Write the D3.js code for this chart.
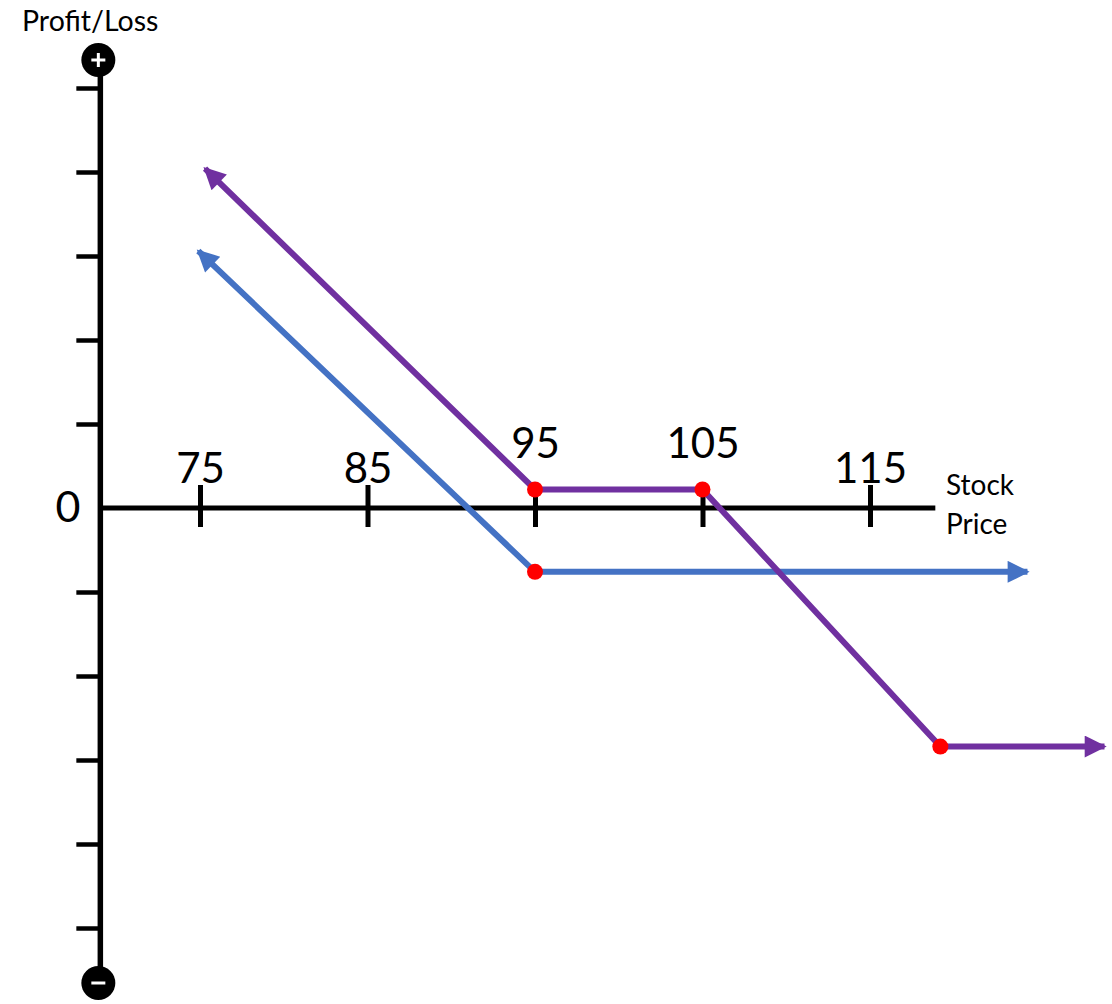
<!DOCTYPE html>
<html>
<head>
<meta charset="utf-8">
<script src="https://cdn.jsdelivr.net/npm/d3@7"></script>
<style>
  body { margin: 0; background: #fff; }
  text { font-family: Lato, "Open Sans", sans-serif; fill: #000; }
</style>
</head>
<body>
<script>
// data: stock price vs profit/loss (one y tick = 5)
let xTicks = [75, 85, 95, 105, 115]
let yTicks = [-25, -20, -15, -10, -5, 5, 10, 15, 20, 25]
let raisedTicks = [95, 105]

let purplePrice = [75.3, 95, 105, 119.2, 129]
let purplePL = [20.2, 1.1, 1.1, -14.2, -14.2]
let purpleDots = [1, 2, 3]

let bluePrice = [74.9, 95, 124.4]
let bluePL = [15.3, -3.8, -3.8]
let blueDots = [1]

let w = 1112, h = 1004

let svg = d3.select("body").append("svg")
    .attr("width", w)
    .attr("height", h)

let x = d3.scaleLinear().domain([75, 115]).range([200, 870])
let y = d3.scaleLinear().domain([-25, 25]).range([928, 88])

let axisX = x(69.05)
let zeroY = y(0)

// arrow markers
let defs = svg.append("defs")
let addMarker = (id, color) => {
    defs.append("marker")
        .attr("id", id)
        .attr("viewBox", "0 0 10 10")
        .attr("refX", 9)
        .attr("refY", 5)
        .attr("markerUnits", "userSpaceOnUse")
        .attr("markerWidth", 24)
        .attr("markerHeight", 22)
        .attr("orient", "auto-start-reverse")
        .append("path")
        .attr("d", "M0,0 L10,5 L0,10 Z")
        .attr("fill", color)
}
addMarker("arrowPurple", "#7030a0")
addMarker("arrowBlue", "#4472c4")

// y axis
let yAxis = d3.axisLeft(y).tickValues(yTicks).tickSize(24).tickFormat("")
let gy = svg.append("g")
    .attr("transform", `translate(${axisX},0)`)
    .call(yAxis)
gy.select(".domain").remove()
gy.selectAll(".tick line").attr("stroke", "#000").attr("stroke-width", 4.5)

svg.append("line")
    .attr("x1", axisX).attr("x2", axisX)
    .attr("y1", 60).attr("y2", 983)
    .attr("stroke", "#000").attr("stroke-width", 5.5)

// plus / minus circles
let ends = [{cy: 60, sign: "+"}, {cy: 983, sign: "-"}]
ends.forEach(e => {
    svg.append("circle")
        .attr("cx", axisX - 2).attr("cy", e.cy).attr("r", 17)
        .attr("fill", "#000")
    svg.append("line")
        .attr("x1", axisX - 9).attr("x2", axisX + 5)
        .attr("y1", e.cy).attr("y2", e.cy)
        .attr("stroke", "#fff").attr("stroke-width", 3)
    if (e.sign == "+") {
        svg.append("line")
            .attr("x1", axisX - 2).attr("x2", axisX - 2)
            .attr("y1", e.cy - 7).attr("y2", e.cy + 7)
            .attr("stroke", "#fff").attr("stroke-width", 3)
    }
})

// x axis
let xAxis = d3.axisBottom(x).tickValues(xTicks).tickSize(0)
let gx = svg.append("g")
    .attr("transform", `translate(0,${zeroY})`)
    .call(xAxis)
gx.select(".domain").remove()
gx.selectAll(".tick line")
    .attr("y1", -23).attr("y2", 19)
    .attr("stroke", "#000").attr("stroke-width", 5)
gx.selectAll(".tick text")
    .attr("y", d => raisedTicks.includes(d) ? -50 : -25)
    .attr("dy", 0)
    .style("font-family", "Lato, 'Open Sans', sans-serif")
    .style("font-size", "42px")
    .attr("fill", "#000")

svg.append("line")
    .attr("x1", axisX).attr("x2", x(118.9))
    .attr("y1", zeroY).attr("y2", zeroY)
    .attr("stroke", "#000").attr("stroke-width", 5)

// labels
svg.append("text")
    .attr("x", 68).attr("y", zeroY + 14)
    .attr("text-anchor", "middle")
    .style("font-size", "43px")
    .text("0")

svg.append("text")
    .attr("x", 22).attr("y", 31)
    .style("font-size", "28.5px")
    .text("Profit/Loss")

svg.append("text")
    .attr("x", 946).attr("y", 495)
    .style("font-size", "28px")
    .text("Stock")
svg.append("text")
    .attr("x", 946).attr("y", 534)
    .style("font-size", "28px")
    .text("Price")

// payoff lines
let line = d3.line().x(d => x(d[0])).y(d => y(d[1]))

let drawSeries = (prices, pls, dots, color, marker) => {
    let pts = d3.zip(prices, pls)
    svg.append("path")
        .attr("d", line(pts))
        .attr("fill", "none")
        .attr("stroke", color)
        .attr("stroke-width", 6)
        .attr("marker-start", `url(#${marker})`)
        .attr("marker-end", `url(#${marker})`)
    return pts.filter((p, i) => dots.includes(i))
}

let bDots = drawSeries(bluePrice, bluePL, blueDots, "#4472c4", "arrowBlue")
let pDots = drawSeries(purplePrice, purplePL, purpleDots, "#7030a0", "arrowPurple")

svg.selectAll("circle.dot")
    .data(bDots.concat(pDots))
    .enter()
    .append("circle")
    .attr("class", "dot")
    .attr("cx", d => x(d[0]))
    .attr("cy", d => y(d[1]))
    .attr("r", 8)
    .attr("fill", "#ff0000")
</script>
</body>
</html>
